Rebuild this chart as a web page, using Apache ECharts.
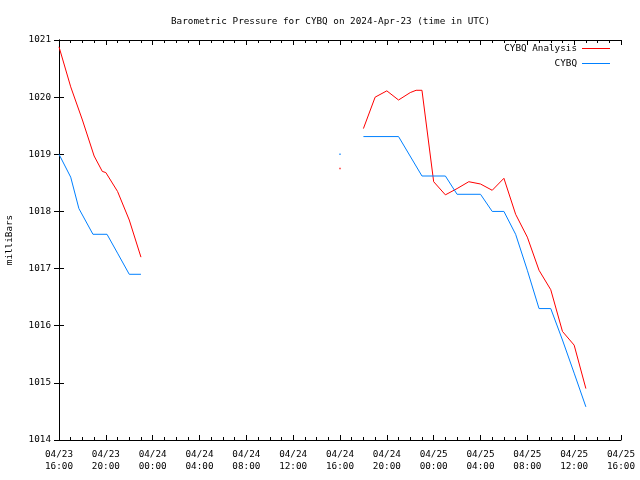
<!DOCTYPE html>
<html>
<head>
<meta charset="utf-8">
<script src="https://cdn.jsdelivr.net/npm/echarts@6/dist/echarts.min.js"></script>
<style>html,body{margin:0;padding:0;background:#fff}#c{width:640px;height:480px}</style>
</head>
<body>
<div id="c"></div>
<script>
// hours after 2024-04-23 16:00 UTC; null = gap
var analysisHours = [0, 1, 2, 3, 3.7, 4, 5, 6, 7, null,
  26, 27, 28, 29, 30, 30.5, 31, 32, 33, 34, 35, 36, 37, 38, 39, 40, 41, 42, 43, 44, 45];
var analysisValues = [1020.88, 1020.18, 1019.6, 1018.97, 1018.7, 1018.68, 1018.35, 1017.85, 1017.2, null,
  1019.45, 1020.0, 1020.11, 1019.95, 1020.08, 1020.12, 1020.12, 1018.52, 1018.29, 1018.4, 1018.52, 1018.48, 1018.37, 1018.58, 1017.95, 1017.55, 1016.97, 1016.63, 1015.9, 1015.66, 1014.9];
var obsHours = [0, 1, 1.7, 2.9, 4.1, 5, 6, 7, null,
  26, 29, 31, 33, 34, 36, 37, 38, 39, 40, 41, 42, 43, 44, 45];
var obsValues = [1019.0, 1018.6, 1018.05, 1017.6, 1017.6, 1017.27, 1016.9, 1016.9, null,
  1019.31, 1019.31, 1018.62, 1018.62, 1018.3, 1018.3, 1018.0, 1018.0, 1017.6, 1016.97, 1016.3, 1016.3, 1015.75, 1015.17, 1014.58];
// isolated single readings
var loneHour = [24];
var loneAnalysis = [1018.75];
var loneObs = [1019.0];

var xTickHours = [0, 4, 8, 12, 16, 20, 24, 28, 32, 36, 40, 44, 48];
var yTicks = [1014, 1015, 1016, 1017, 1018, 1019, 1020, 1021];

function pairs(h, v) {
  return h.map(function (x, i) { return x === null ? [null, '-'] : [x, v[i]]; });
}
function fmtX(h) {
  var t = 16 + h;
  var d = 23 + Math.floor(t / 24);
  var hh = t % 24;
  return '04/' + d + '\n' + (hh < 10 ? '0' : '') + hh + ':00';
}
var FONT = 'DejaVu Sans Mono';
var FS = 9.3;
var RED = '#ff0000', BLUE = '#0080ff';

var chart = echarts.init(document.getElementById('c'), null, {renderer: 'canvas'});
var axisLineStyle = {lineStyle: {color: '#000', width: 1}};
chart.setOption({
  animation: false,
  backgroundColor: '#fff',
  textStyle: {fontFamily: FONT},
  title: {
    text: 'Barometric Pressure for CYBQ on 2024-Apr-23 (time in UTC)',
    left: 166, top: 12,
    textStyle: {fontFamily: FONT, fontSize: FS, fontWeight: 'normal', color: '#000'}
  },
  legend: [
    {data: ['CYBQ Analysis'], right: 25, top: 39, align: 'right', itemWidth: 28, itemHeight: 1, icon: 'rect',
      textStyle: {fontFamily: FONT, fontSize: FS, color: '#000'}, itemGap: 4},
    {data: ['CYBQ'], right: 25, top: 54, align: 'right', itemWidth: 28, itemHeight: 1, icon: 'rect',
      textStyle: {fontFamily: FONT, fontSize: FS, color: '#000'}, itemGap: 4}
  ],
  grid: {left: 59, right: 19, top: 40, bottom: 40, containLabel: false, outerBoundsMode: 'none'},
  xAxis: [
    {type: 'value', min: 0, max: 48, interval: 4, position: 'bottom',
      axisLine: axisLineStyle,
      axisTick: {inside: true, length: 5, lineStyle: {color: '#000'}},
      minorTick: {show: true, splitNumber: 4, length: 3, lineStyle: {color: '#000'}},
      splitLine: {show: false}, minorSplitLine: {show: false},
      axisLabel: {formatter: fmtX, fontFamily: FONT, fontSize: FS, color: '#000', lineHeight: 12, margin: 9,
        showMinLabel: true, showMaxLabel: true, hideOverlap: false}
    },
    {type: 'value', min: 0, max: 48, interval: 4, position: 'top',
      axisLine: axisLineStyle,
      axisTick: {inside: true, length: 5, lineStyle: {color: '#000'}},
      minorTick: {show: true, splitNumber: 4, length: 3, lineStyle: {color: '#000'}},
      splitLine: {show: false}, axisLabel: {show: false}
    }
  ],
  yAxis: [
    {type: 'value', min: 1014, max: 1021, interval: 1, position: 'left',
      name: 'milliBars', nameLocation: 'middle', nameGap: 45, nameRotate: 90,
      nameTextStyle: {fontFamily: FONT, fontSize: FS, color: '#000'},
      axisLine: {show: true, lineStyle: {color: '#000', width: 1}},
      axisTick: {show: true, inside: true, length: 5, lineStyle: {color: '#000'}},
      splitLine: {show: false},
      axisLabel: {fontFamily: FONT, fontSize: FS, color: '#000', margin: 8,
        formatter: function (v) { return String(v); }}
    },
    {type: 'value', min: 1014, max: 1021, interval: 1, position: 'right',
      axisLine: {show: true, lineStyle: {color: '#000', width: 1}},
      axisTick: {show: true, inside: true, length: 5, lineStyle: {color: '#000'}},
      splitLine: {show: false}, axisLabel: {show: false}
    }
  ],
  series: [
    {name: 'CYBQ Analysis', type: 'line', data: pairs(analysisHours, analysisValues),
      showSymbol: false, symbol: 'none', connectNulls: false,
      lineStyle: {color: RED, width: 1}, itemStyle: {color: RED}},
    {name: 'CYBQ', type: 'line', data: pairs(obsHours, obsValues),
      showSymbol: false, symbol: 'none', connectNulls: false,
      lineStyle: {color: BLUE, width: 1}, itemStyle: {color: BLUE}},
    {name: 'loneA', type: 'scatter', silent: true, symbol: 'rect', symbolSize: 1.5,
      data: loneHour.map(function (h, i) { return [h, loneAnalysis[i]]; }), itemStyle: {color: RED}},
    {name: 'loneO', type: 'scatter', silent: true, symbol: 'rect', symbolSize: 1.5,
      data: loneHour.map(function (h, i) { return [h, loneObs[i]]; }), itemStyle: {color: BLUE}}
  ]
});
</script>
</body>
</html>
